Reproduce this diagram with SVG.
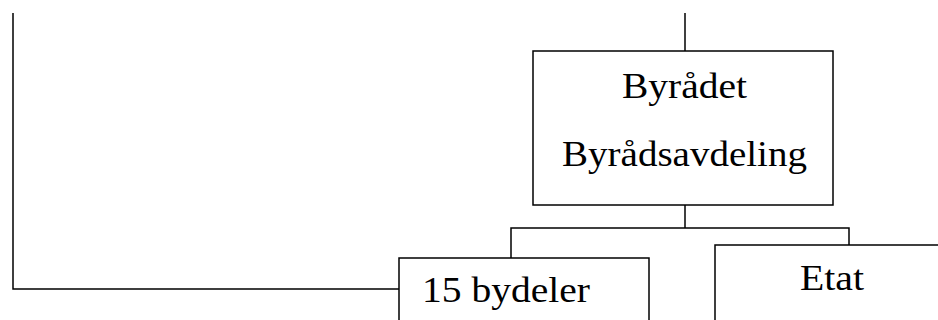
<svg xmlns="http://www.w3.org/2000/svg" width="938" height="320" viewBox="0 0 938 320">
<style>
.box{fill:#fff;stroke:#000;stroke-width:1.5}
.ln{fill:none;stroke:#000;stroke-width:1.5}
.t{font-family:"Liberation Serif","DejaVu Serif",serif;font-size:36px;fill:#000}
</style>
<rect width="938" height="320" fill="#fff"/>
<g id="connectors">
<path class="ln" d="M685 13V51"/>
<path class="ln" d="M685 205V228"/>
<path class="ln" d="M511 258V228H849V245"/>
<path class="ln" d="M13 13V289H399"/>
</g>
<g id="byraadet">
<rect class="box" x="533" y="51" width="300" height="154"/>
<text class="t" x="684.5" y="98" text-anchor="middle" textLength="125" lengthAdjust="spacingAndGlyphs">Byrådet</text>
<text class="t" x="684.5" y="166" text-anchor="middle" textLength="245" lengthAdjust="spacingAndGlyphs">Byrådsavdeling</text>
</g>
<g id="bydeler">
<rect class="box" x="399" y="258" width="250" height="80"/>
<text class="t" x="422" y="302" textLength="168" lengthAdjust="spacingAndGlyphs">15 bydeler</text>
</g>
<g id="etat">
<rect class="box" x="715" y="245" width="260" height="100"/>
<text class="t" x="800" y="290" textLength="64" lengthAdjust="spacingAndGlyphs">Etat</text>
</g>
</svg>
